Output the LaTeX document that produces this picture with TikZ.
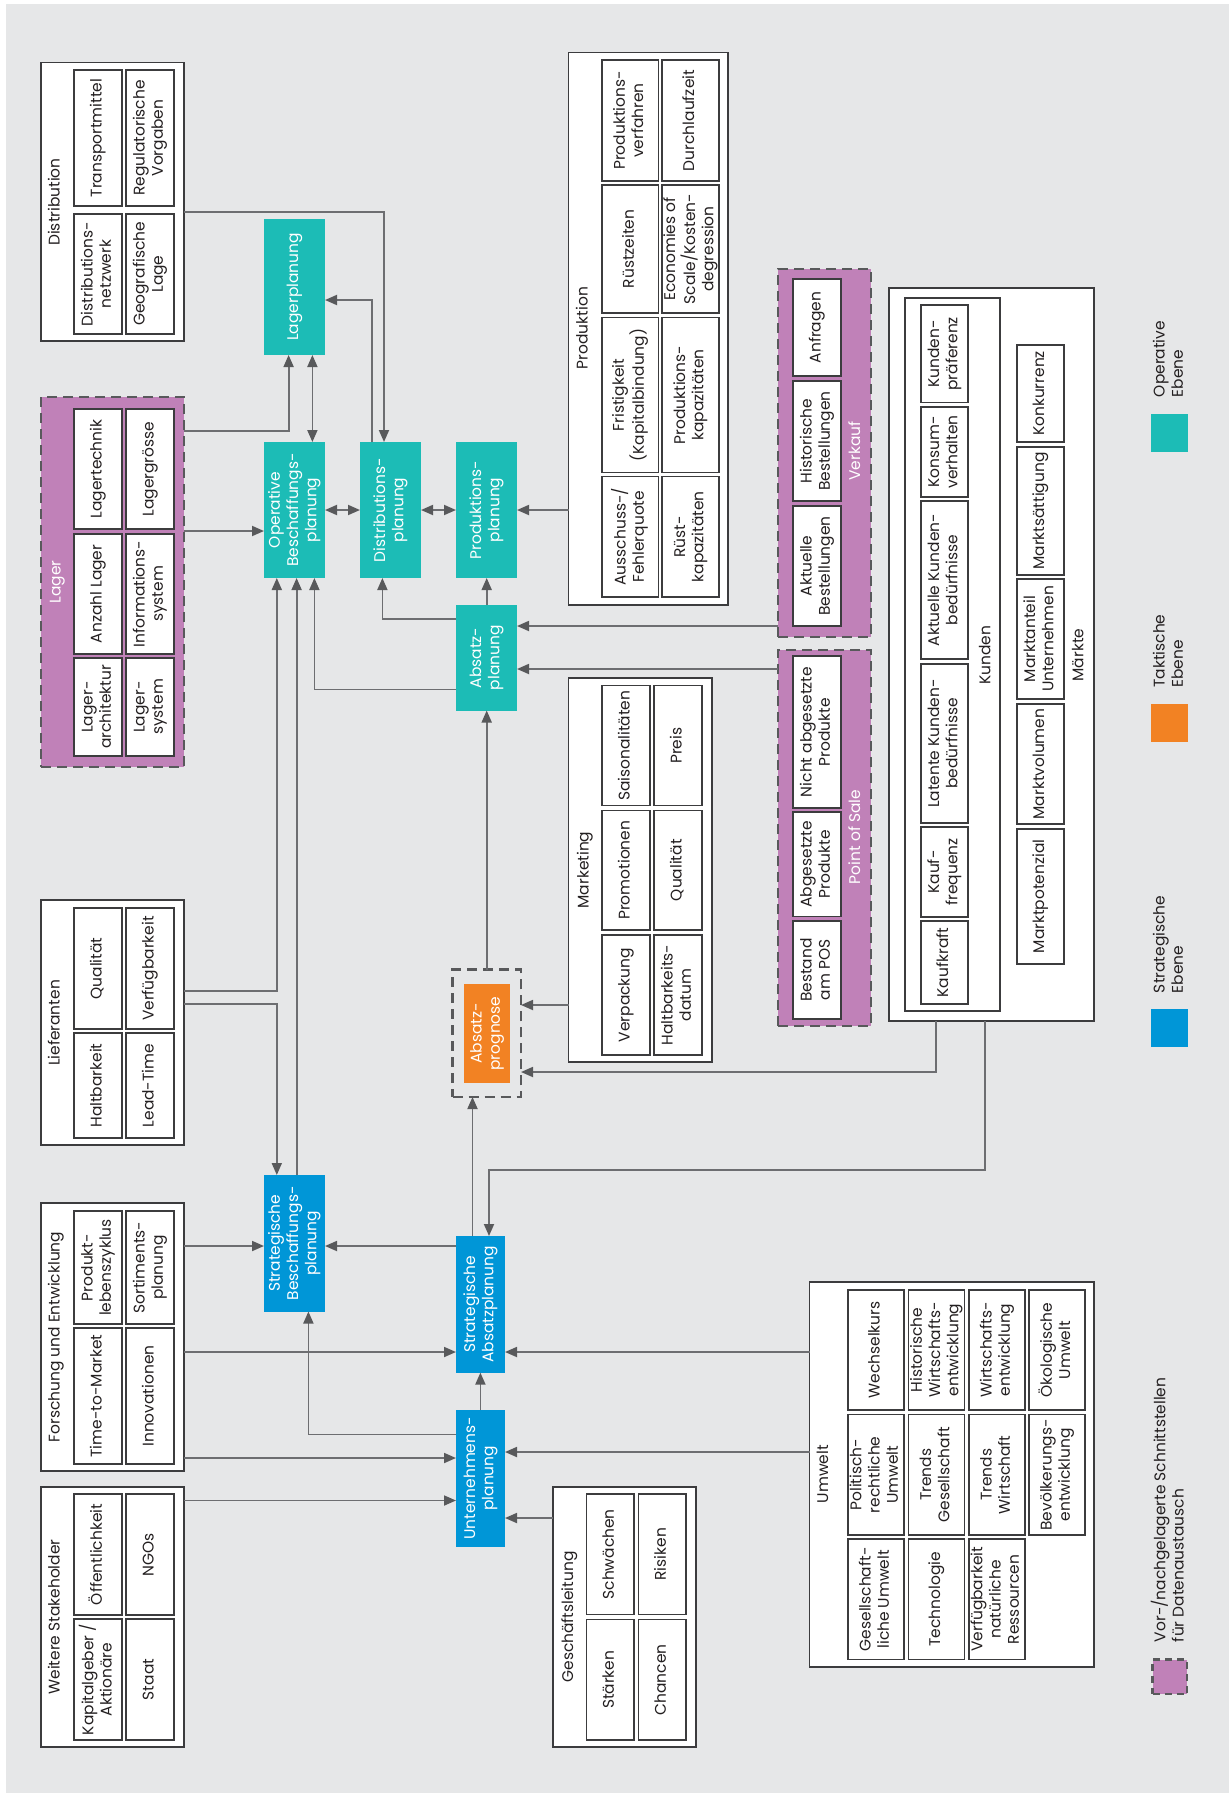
\documentclass[tikz,border=0pt]{standalone}
\usepackage{fontspec}
\setmainfont{Poppins}
\usetikzlibrary{arrows.meta}
\definecolor{bgc}{HTML}{E6E7E8}
\definecolor{opc}{HTML}{1CBCB6}
\definecolor{takc}{HTML}{F28223}
\definecolor{strc}{HTML}{0096D7}
\definecolor{purp}{HTML}{C081B8}
\definecolor{lnc}{HTML}{6D6E71}
\definecolor{dkc}{HTML}{58595B}
\definecolor{txc}{HTML}{231F20}
\definecolor{cbc}{HTML}{3C3C3E}
\newcommand{\rt}[1]{\rotatebox{90}{\begin{tabular}{@{}c@{}}#1\end{tabular}}}
\newcommand{\rtl}[1]{\rotatebox{90}{\begin{tabular}{@{}l@{}}#1\end{tabular}}}
\newcommand{\bx}[7][]{\node[#1,minimum width={(#4-#2)*1bp},minimum height={(#5-#3)*1bp}] (#6) at ({(#2+#4)/2},{(#3+#5)/2}) {\rt{#7}};}
\tikzset{
  every node/.style={inner sep=0pt,outer sep=0pt,font=\fontsize{15.5}{18.3}\selectfont,text=txc},
  cell/.style={draw=cbc,line width=1.2bp,fill=white},
  outer/.style={draw=cbc,line width=1.6bp,fill=white},
  purpbox/.style={draw=dkc,line width=2.5bp,fill=purp,dash pattern=on 10bp off 6bp},
  opbox/.style={fill=opc,text=white},
  takbox/.style={fill=takc,text=white},
  strbox/.style={fill=strc,text=white},
  ttl/.style={text=txc},
  wttl/.style={text=white},
  conn/.style={draw=lnc,line width=1.8bp,-{Triangle[length=12bp,width=10bp,color=dkc]}},
  dconn/.style={draw=lnc,line width=1.8bp,{Triangle[length=12bp,width=10bp,color=dkc]}-{Triangle[length=12bp,width=10bp,color=dkc]}},
}
\begin{document}
\begin{tikzpicture}[x=1bp,y=-1bp]
\useasboundingbox (0,0) rectangle (1229,1793);
\fill[bgc] (6,4) rectangle (1229,1793);

% ---------- Distribution ----------
\bx[outer]{41}{62.5}{184}{341}{distb}{}
\node[ttl] (tdist) at (56,202) {\rt{Distribution}};
\bx[cell]{74}{70}{122}{206}{d1}{Transportmittel}
\bx[cell]{126}{70}{174}{206}{d2}{Regulatorische\\Vorgaben}
\bx[cell]{74}{214}{122}{334}{d3}{Distributions-\\netzwerk}
\bx[cell]{126}{214}{174}{334}{d4}{Geografische\\Lage}

% ---------- Lager ----------
\bx[purpbox]{41}{397}{184}{767}{lager}{}
\node[wttl] (tlager) at (57,582) {\rt{Lager}};
\bx[cell]{74}{409}{122}{529}{l1}{Lagertechnik}
\bx[cell]{126}{409}{174}{529}{l2}{Lagergrösse}
\bx[cell]{74}{534}{122}{654}{l3}{Anzahl Lager}
\bx[cell]{126}{534}{174}{654}{l4}{Informations-\\system}
\bx[cell]{74}{658}{122}{756}{l5}{Lager-\\architektur}
\bx[cell]{126}{658}{174}{756}{l6}{Lager-\\system}

% ---------- Lieferanten ----------
\bx[outer]{41}{900}{184}{1145}{lief}{}
\node[ttl] (tlief) at (56,1023) {\rt{Lieferanten}};
\bx[cell]{74}{908}{122}{1029}{f1}{Qualität}
\bx[cell]{126}{908}{174}{1029}{f2}{Verfügbarkeit}
\bx[cell]{74}{1033}{122}{1138}{f3}{Haltbarkeit}
\bx[cell]{126}{1033}{174}{1138}{f4}{Lead-Time}

% ---------- Forschung und Entwicklung ----------
\bx[outer]{41}{1203}{184}{1471}{fe}{}
\node[ttl] (tfe) at (56,1337) {\rt{Forschung und Entwicklung}};
\bx[cell]{74}{1211}{122}{1324}{e1}{Produkt-\\lebenszyklus}
\bx[cell]{126}{1211}{174}{1324}{e2}{Sortiments-\\planung}
\bx[cell]{74}{1328}{122}{1464}{e3}{Time-to-Market}
\bx[cell]{126}{1328}{174}{1464}{e4}{Innovationen}

% ---------- Weitere Stakeholder ----------
\bx[outer]{41}{1487}{184}{1747}{ws}{}
\node[ttl] (tws) at (56,1617) {\rt{Weitere Stakeholder}};
\bx[cell]{74}{1494}{122}{1615}{w1}{Öffentlichkeit}
\bx[cell]{126}{1494}{174}{1615}{w2}{NGOs}
\bx[cell]{74}{1619}{122}{1740}{w3}{Kapitalgeber /\\Aktionäre}
\bx[cell]{126}{1619}{174}{1740}{w4}{Staat}

% ---------- Geschaeftsleitung ----------
\bx[outer]{553}{1487}{696}{1747}{gl}{}
\node[ttl] (tgl) at (569.5,1617) {\rt{Geschäftsleitung}};
\bx[cell]{586.5}{1494}{634}{1614.5}{g1}{Schwächen}
\bx[cell]{638.5}{1494}{686}{1614.5}{g2}{Risiken}
\bx[cell]{586.5}{1619.5}{634}{1740}{g3}{Stärken}
\bx[cell]{638.5}{1619.5}{686}{1740}{g4}{Chancen}

% ---------- Umwelt ----------
\bx[outer]{809.6}{1282}{1094}{1667}{umw}{}
\node[ttl] (tumw) at (824.5,1474) {\rt{Umwelt}};
\bx[cell]{848}{1290}{904}{1410}{u1}{Wechselkurs}
\bx[cell]{848}{1414.5}{904}{1535}{u2}{Politisch-\\rechtliche\\Umwelt}
\bx[cell]{848}{1539}{904}{1659.6}{u3}{Gesellschaft-\\liche Umwelt}
\bx[cell]{908.6}{1290}{964.4}{1410}{u4}{Historische\\Wirtschafts-\\entwicklung}
\bx[cell]{908.6}{1414.5}{964.4}{1535}{u5}{Trends\\Gesellschaft}
\bx[cell]{908.6}{1539}{964.4}{1659.6}{u6}{Technologie}
\bx[cell]{969}{1290}{1025}{1410}{u7}{Wirtschafts-\\entwicklung}
\bx[cell]{969}{1414.5}{1025}{1535}{u8}{Trends\\Wirtschaft}
\bx[cell]{969}{1539}{1025}{1659.6}{u9}{Verfügbarkeit\\natürliche\\Ressourcen}
\bx[cell]{1029}{1290}{1085}{1410}{u10}{Ökologische\\Umwelt}
\bx[cell]{1029}{1414.5}{1085}{1535}{u11}{Bevölkerungs-\\entwicklung}

% ---------- Produktion ----------
\bx[outer]{568.5}{52.6}{728}{605}{prod}{}
\node[ttl] (tprod) at (584,328) {\rt{Produktion}};
\bx[cell]{602}{60}{658.5}{181}{p1}{Produktions-\\verfahren}
\bx[cell]{602}{185}{658.5}{313}{p2}{Rüstzeiten}
\bx[cell]{602}{317.5}{658.5}{472.5}{p3}{Fristigkeit\\(Kapitalbindung)}
\bx[cell]{602}{476.5}{658.5}{597}{p4}{Ausschuss-/\\Fehlerquote}
\bx[cell]{662}{60}{719}{181}{p5}{Durchlaufzeit}
\bx[cell]{662}{185}{719}{313}{p6}{Economies of\\Scale/Kosten-\\degression}
\bx[cell]{662}{317.5}{719}{472.5}{p7}{Produktions-\\kapazitäten}
\bx[cell]{662}{476.5}{719}{597}{p8}{Rüst-\\kapazitäten}

% ---------- Marketing ----------
\bx[outer]{568.5}{678}{712}{1062}{mkt}{}
\node[ttl] (tmkt) at (585,870) {\rt{Marketing}};
\bx[cell]{602}{685.6}{650}{805.8}{m1}{Saisonalitäten}
\bx[cell]{602}{810.5}{650}{930}{m2}{Promotionen}
\bx[cell]{602}{935}{650}{1055}{m3}{Verpackung}
\bx[cell]{654}{685.6}{702}{805.8}{m4}{Preis}
\bx[cell]{654}{810.5}{702}{930}{m5}{Qualität}
\bx[cell]{654}{935}{702}{1055}{m6}{Haltbarkeits-\\datum}

% ---------- Verkauf ----------
\bx[purpbox]{778}{269}{871}{637}{verk}{}
\node[wttl] (tverk) at (856.5,451) {\rt{Verkauf}};
\bx[cell]{793}{279}{841}{376}{v1}{Anfragen}
\bx[cell]{793}{381}{841}{501}{v2}{Historische\\Bestellungen}
\bx[cell]{793}{506}{841}{626}{v3}{Aktuelle\\Bestellungen}

% ---------- Point of Sale ----------
\bx[purpbox]{778}{650}{871}{1026}{pos}{}
\node[wttl] (tpos) at (856.5,837) {\rt{Point of Sale}};
\bx[cell]{793}{656}{841}{808}{s1}{Nicht abgesetzte\\Produkte}
\bx[cell]{793}{812}{841}{916.5}{s2}{Abgesetzte\\Produkte}
\bx[cell]{793}{921}{841}{1019}{s3}{Bestand\\am POS}

% ---------- Maerkte / Kunden ----------
\bx[outer]{889}{288}{1094}{1021}{maerkte}{}
\bx[outer]{905}{298}{1000}{1011}{kunden}{}
\node[ttl] (tkunden) at (986.6,655) {\rt{Kunden}};
\node[ttl] (tmaerkte) at (1079.6,655) {\rt{Märkte}};
\bx[cell]{921}{305}{968}{402.5}{k1}{Kunden-\\präferenz}
\bx[cell]{921}{407}{968}{497}{k2}{Konsum-\\verhalten}
\bx[cell]{921}{501}{968}{659}{k3}{Aktuelle Kunden-\\bedürfnisse}
\bx[cell]{921}{664}{968}{823}{k4}{Latente Kunden-\\bedürfnisse}
\bx[cell]{921}{827}{968}{917}{k5}{Kauf-\\frequenz}
\bx[cell]{921}{921}{968}{1004}{k6}{Kaufkraft}
\bx[cell]{1017}{345}{1064}{442}{q1}{Konkurrenz}
\bx[cell]{1017}{447}{1064}{575}{q2}{Marktsättigung}
\bx[cell]{1017}{579}{1064}{699}{q3}{Marktanteil\\Unternehmen}
\bx[cell]{1017}{704}{1064}{824}{q4}{Marktvolumen}
\bx[cell]{1017}{829}{1064}{964}{q5}{Marktpotenzial}

% ---------- Planning boxes ----------
\bx[opbox]{264}{219}{325}{355}{lpl}{Lagerplanung}
\bx[opbox]{264}{442}{325}{578}{opb}{Operative\\Beschaffungs-\\planung}
\bx[opbox]{360}{442}{421}{578}{dpl}{Distributions-\\planung}
\bx[opbox]{456}{442}{517}{578}{ppl}{Produktions-\\planung}
\bx[opbox]{456}{605}{517}{710.5}{apl}{Absatz-\\planung}
\bx[draw=dkc,line width=2.5bp,dash pattern=on 10bp off 6bp]{452.7}{969.5}{521}{1097}{progd}{}
\bx[takbox]{464}{984}{510}{1083}{prog}{Absatz-\\prognose}
\bx[strbox]{264}{1175}{325}{1311.5}{sb}{Strategische\\Beschaffungs-\\planung}
\bx[strbox]{456}{1236}{505}{1372.6}{sa}{Strategische\\Absatzplanung}
\bx[strbox]{456}{1410}{505}{1546.5}{up}{Unternehmens-\\planung}

% ---------- Legend ----------
\bx[fill=opc]{1151}{414}{1188}{451.5}{lg1}{}
\node[anchor=south] (lt1) at (1170,397) {\rtl{Operative\\Ebene}};
\bx[fill=takc]{1151}{704}{1188}{742}{lg2}{}
\node[anchor=south] (lt2) at (1170,687.5) {\rtl{Taktische\\Ebene}};
\bx[fill=strc]{1151}{1009}{1188}{1046.6}{lg3}{}
\node[anchor=south] (lt3) at (1170,993) {\rtl{Strategische\\Ebene}};
\bx[draw=dkc,line width=2.5bp,fill=purp,dash pattern=on 7bp off 5bp]{1152.5}{1659.6}{1187}{1694}{lg4}{}
\node[anchor=south] (lt4) at (1170,1642) {\rtl{Vor-/nachgelagerte Schnittstellen\\für Datenaustausch}};

% ---------- Connectors ----------
\draw[conn] (distb.east |- 0,212) -| (dpl.north -| 384,0);
\draw[conn] (lager.east |- 0,431) -| (lpl.south -| 288.6,0);
\draw[dconn] (lpl.south -| 312.4,0) -- (opb.north -| 312.4,0);
\draw[conn] (dpl.north -| 371.7,0) |- (lpl.east |- 0,300);
\draw[conn] (lager.east |- 0,531) -- (opb.west |- 0,531);
\draw[dconn] (opb.east |- 0,510) -- (dpl.west |- 0,510);
\draw[dconn] (dpl.east |- 0,510) -- (ppl.west |- 0,510);
\draw[conn] (prod.west |- 0,510) -- (ppl.east |- 0,510);
\draw[conn] (apl.north -| 486.7,0) -- (ppl.south -| 486.7,0);
\draw[conn] (apl.west |- 0,619) -| (dpl.south -| 382.4,0);
\draw[conn] (apl.west |- 0,689.5) -| (opb.south -| 314.4,0);
\draw[conn] (lief.east |- 0,991) -| (opb.south -| 276.8,0);
\draw[conn] (lief.east |- 0,1004) -| (sb.north -| 276.8,0);
\draw[conn] (sb.north -| 296.6,0) -- (opb.south -| 296.6,0);
\draw[conn] (verk.west |- 0,626) -- (apl.east |- 0,626);
\draw[conn] (pos.west |- 0,669) -- (apl.east |- 0,669);
\draw[conn] (progd.north -| 486.7,0) -- (apl.south -| 486.7,0);
\draw[conn] (mkt.west |- 0,1005) -- (progd.east |- 0,1005);
\draw[conn] (maerkte.south -| 936,0) |- (progd.east |- 0,1072);
\draw[conn] (maerkte.south -| 985,0) |- (489,1170) -- (sa.north -| 489,0);
\draw[conn] (sa.north -| 472.5,0) -- (progd.south -| 472.5,0);
\draw[conn] (fe.east |- 0,1246) -- (sb.west |- 0,1246);
\draw[conn] (sa.west |- 0,1246) -- (sb.east |- 0,1246);
\draw[conn] (fe.east |- 0,1352) -- (sa.west |- 0,1352);
\draw[conn] (umw.west |- 0,1352) -- (sa.east |- 0,1352);
\draw[conn] (up.north -| 480.4,0) -- (sa.south -| 480.4,0);
\draw[conn] (up.west |- 0,1434.5) -| (sb.south -| 308.4,0);
\draw[conn] (fe.east |- 0,1458) -- (up.west |- 0,1458);
\draw[conn] (umw.west |- 0,1452) -- (up.east |- 0,1452);
\draw[conn] (ws.east |- 0,1500.5) -- (up.west |- 0,1500.5);
\draw[conn] (gl.west |- 0,1518) -- (up.east |- 0,1518);
\end{tikzpicture}
\end{document}
